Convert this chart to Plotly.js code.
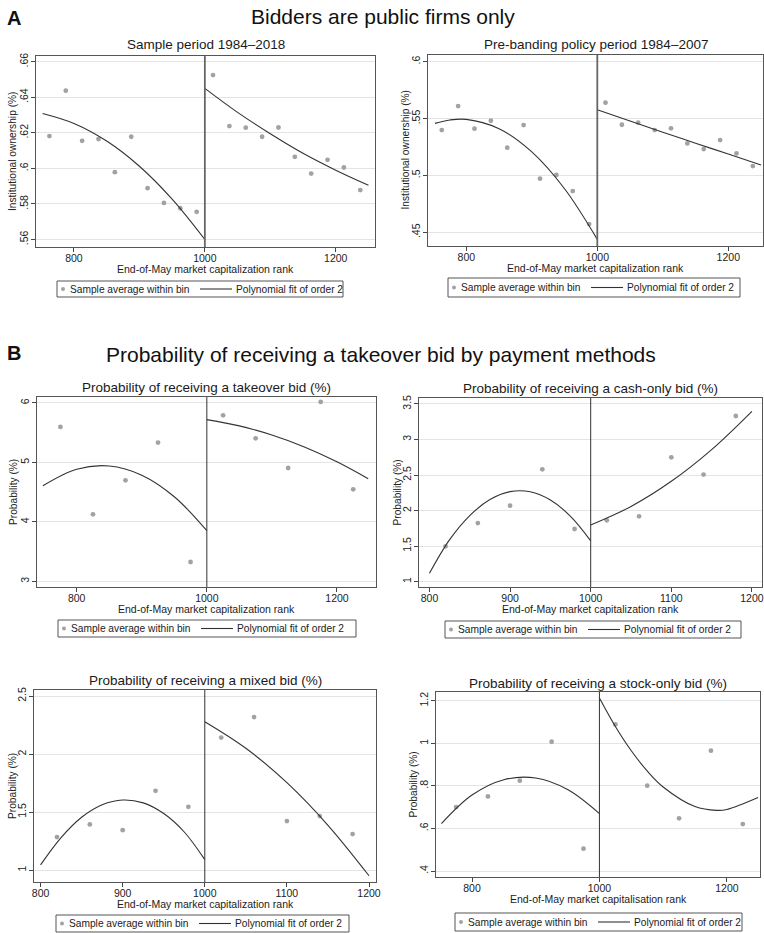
<!DOCTYPE html>
<html><head><meta charset="utf-8">
<script src="https://cdn.plot.ly/plotly-3.0.1.min.js"></script>
<style>html,body{margin:0;padding:0;background:#fff}#chart{width:764px;height:933px}</style>
</head><body><div id="chart"></div>
<script>
// ---------- DATA ----------
const cutoff = 1000;
const binsA = [762.5,787.5,812.5,837.5,862.5,887.5,912.5,937.5,962.5,987.5,1012.5,1037.5,1062.5,1087.5,1112.5,1137.5,1162.5,1187.5,1212.5,1237.5];
const a1Y = [0.6182,0.6437,0.6155,0.6165,0.5979,0.6178,0.5889,0.5806,0.5776,0.5756,0.6525,0.6238,0.6229,0.6178,0.6230,0.6065,0.5971,0.6048,0.6005,0.5878];
const a2Y = [0.5399,0.5610,0.5411,0.5481,0.5244,0.5443,0.4972,0.5004,0.4863,0.4573,0.5640,0.5446,0.5464,0.5399,0.5414,0.5282,0.5232,0.5311,0.5194,0.5083];
const a1FitX = [752,800,850,900,950,1000,null,1000,1050,1100,1150,1200,1250];
const a1FitY = [0.6309,0.6253,0.6154,0.6012,0.5827,0.5600,null,0.6450,0.6315,0.6195,0.6085,0.5990,0.5905];
const a2FitX = [752,775,800,850,900,950,1000,null,1000,1050,1100,1150,1200,1250];
const a2FitY = [0.5458,0.5488,0.5493,0.5411,0.5207,0.4883,0.4438,null,0.5578,0.5478,0.5380,0.5284,0.5188,0.5092];

const bins50 = [775,825,875,925,975,1025,1075,1125,1175,1225];
const bins40 = [820,860,900,940,980,1020,1060,1100,1140,1180];
const b1Y = [5.596,4.127,4.699,5.333,3.325,5.792,5.405,4.906,6.017,4.547];
const b1FitX = [748,800,850,900,950,1000,null,1000,1050,1100,1150,1200,1248];
const b1FitY = [4.608,4.886,4.940,4.786,4.423,3.852,null,5.720,5.614,5.461,5.260,5.010,4.726];
const b2Y = [1.497,1.825,2.069,2.581,1.741,1.863,1.919,2.750,2.506,3.331];
const b2FitX = [800,825,850,875,900,925,950,975,1000,null,1000,1050,1100,1150,1200];
const b2FitY = [1.118,1.591,1.930,2.155,2.267,2.265,2.149,1.919,1.575,null,1.797,2.058,2.412,2.858,3.397];
const b3Y = [1.284,1.393,1.344,1.683,1.545,2.142,2.319,1.422,1.465,1.310];
const b3FitX = [800,825,850,875,900,925,950,975,1000,null,1000,1050,1100,1150,1200];
const b3FitY = [1.045,1.280,1.455,1.563,1.604,1.579,1.487,1.328,1.090,null,2.279,2.050,1.753,1.386,0.951];
const b4Y = [0.7006,0.7507,0.8243,1.0074,0.5049,1.0888,0.8008,0.6474,0.9652,0.6207];
const b4FitX = [752,800,850,900,950,1000,null,1000,1025,1050,1075,1100,1150,1184,1200,1249];
const b4FitY = [0.623,0.757,0.829,0.837,0.783,0.670,null,1.2125,1.079,0.965,0.870,0.795,0.703,0.685,0.689,0.745];

const xTicks3 = [800,1000,1200];
const xTicks5 = [800,900,1000,1100,1200];
const a1YTicks = [0.56,0.58,0.60,0.62,0.64,0.66], a1YText = ['.56','.58','.6','.62','.64','.66'];
const a2YTicks = [0.45,0.50,0.55,0.60], a2YText = ['.45','.5','.55','.6'];
const b1YTicks = [3,4,5,6], b1YText = ['3','4','5','6'];
const b2YTicks = [1,1.5,2,2.5,3,3.5], b2YText = ['1','1.5','2','2.5','3','3.5'];
const b3YTicks = [1,1.5,2,2.5], b3YText = ['1','1.5','2','2.5'];
const b4YTicks = [0.4,0.6,0.8,1,1.2], b4YText = ['.4','.6','.8','1','1.2'];

const titles = ['Sample period 1984\u20132018','Pre-banding policy period 1984\u20132007',
  'Probability of receiving a takeover bid (%)','Probability of receiving a cash-only bid (%)',
  'Probability of receiving a mixed bid (%)','Probability of receiving a stock-only bid (%)'];
const yTitleA = 'Institutional ownership (%)', yTitleB = 'Probability (%)';
const xTitle = 'End-of-May market capitalization rank', xTitleUK = 'End-of-May market capitalisation rank';
const legPoints = 'Sample average within bin', legFit = 'Polynomial fit of order 2';

// ---------- LAYOUT ----------
const W = 764, H = 933;
const FONT = 'Liberation Sans, Arial, sans-serif';
const PT_COLOR = '#a2a2a2', LINE_COLOR = '#333', TXT = '#222';
const panels = [
 {f:[36,375,56,247], xr:[742,1260], yr:[0.5558,0.6632], xt:xTicks3, yt:a1YTicks, ytt:a1YText, bx:binsA, by:a1Y, fx:a1FitX, fy:a1FitY, yT:yTitleA, xT:xTitle, yTx:12.5, leg:[57,343,281,297], A:true},
 {f:[428,763,55,246], xr:[741.5,1253], yr:[0.438,0.6059], xt:xTicks3, yt:a2YTicks, ytt:a2YText, bx:binsA, by:a2Y, fx:a2FitX, fy:a2FitY, yT:yTitleA, xT:xTitle, yTx:405, leg:[448,740,278,297], A:true},
 {f:[37,376,397,587], xr:[739,1260], yr:[2.905,6.1], xt:xTicks3, yt:b1YTicks, ytt:b1YText, bx:bins50, by:b1Y, fx:b1FitX, fy:b1FitY, yT:yTitleB, xT:xTitle, yTx:14, leg:[58,356,620,637]},
 {f:[419,762,398,587], xr:[787,1212.5], yr:[0.925,3.584], xt:xTicks5, yt:b2YTicks, ytt:b2YText, bx:bins40, by:b2Y, fx:b2FitX, fy:b2FitY, yT:yTitleB, xT:xTitle, yTx:397, leg:[445,741,621,638]},
 {f:[34,376,690,882], xr:[792,1208.5], yr:[0.897,2.552], xt:xTicks5, yt:b3YTicks, ytt:b3YText, bx:bins40, by:b3Y, fx:b3FitX, fy:b3FitY, yT:yTitleB, xT:xTitle, yTx:12, leg:[56,349,915,932]},
 {f:[436,760,692,877], xr:[743.5,1252], yr:[0.372,1.241], xt:xTicks3, yt:b4YTicks, ytt:b4YText, bx:bins50, by:b4Y, fx:b4FitX, fy:b4FitY, yT:yTitleB, xT:xTitleUK, yTx:413, leg:[455,742,913,931]}
];
const titleY = [45,45,387,388,680,683];

const data = [], shapes = [], annotations = [];
const layout = {width:W, height:H, margin:{l:0,r:0,t:0,b:0}, paper_bgcolor:'#fff', plot_bgcolor:'#fff',
  font:{family:FONT, color:'#1a1a1a', size:10}, showlegend:false, shapes, annotations};
const px = v => v/W, py = v => 1 - v/H;
const ann = (text, x, y, o) => annotations.push(Object.assign({text, xref:'paper', yref:'paper', x:px(x), y:py(y),
  xanchor:'center', yanchor:'middle', showarrow:false, borderpad:0, font:{size:10.5, family:FONT, color:TXT}}, o||{}));

panels.forEach((p,i)=>{
  const n = i+1, xa = n===1?'xaxis':'xaxis'+n, ya = n===1?'yaxis':'yaxis'+n;
  const xr = n===1?'x':'x'+n, yr = n===1?'y':'y'+n;
  layout[xa] = {domain:[px(p.f[0]), px(p.f[1])], range:p.xr, anchor:yr, tickvals:p.xt, ticks:'outside', ticklen:4, tickcolor:'#444',
    showline:true, mirror:true, linecolor:'#555', linewidth:1, showgrid:false, zeroline:false, ticklabelstandoff:-3,
    ticklabeloverflow:'allow', tickfont:{size:10.5, family:FONT, color:TXT}};
  layout[ya] = {domain:[py(p.f[3]), py(p.f[2])], range:p.yr, anchor:xr, tickvals:p.yt, ticktext:p.ytt, tickangle:-90,
    ticks:'outside', ticklen:4, tickcolor:'#444', showline:true, mirror:true, linecolor:'#555', linewidth:1,
    showgrid:true, gridcolor:'#e4e4e4', gridwidth:1, zeroline:false, ticklabelstandoff:-1,
    tickfont:{size:10.5, family:FONT, color:TXT}};
  data.push({type:'scatter', mode:'markers', x:p.bx, y:p.by, xaxis:xr, yaxis:yr, name:legPoints,
    marker:{color:PT_COLOR, size:4.8}, hoverinfo:'skip'});
  data.push({type:'scatter', mode:'lines', x:p.fx, y:p.fy, xaxis:xr, yaxis:yr, name:legFit,
    line:{color:LINE_COLOR, width:1.1, shape:'spline', smoothing:1}, connectgaps:false, hoverinfo:'skip'});
  shapes.push({type:'line', xref:xr, yref:yr+' domain', x0:cutoff, x1:cutoff, y0:0, y1:1,
    line:{color:p.A?'#666':'#333', width:p.A?1.8:1}, layer:'above'});
  // titles
  ann(titles[i], (p.f[0]+p.f[1])/2, titleY[i], {font:{size:13.5, family:FONT, color:'#1a1a1a'}});
  ann(p.xT, (p.f[0]+p.f[1])/2, p.f[3]+21.5);
  ann(p.yT, p.yTx, (p.f[2]+p.f[3])/2, {textangle:-90, font:{size:10.2, family:FONT, color:TXT}});
  // legend box drawn by hand (Stata style)
  const [lx0,lx1,ly0,ly1] = p.leg, lym = (ly0+ly1)/2;
  shapes.push({type:'rect', xref:'paper', yref:'paper', x0:px(lx0), x1:px(lx1), y0:py(ly1), y1:py(ly0),
    line:{color:'#555', width:1}, fillcolor:'#fff'});
  shapes.push({type:'circle', xref:'paper', yref:'paper', x0:px(lx0+4), x1:px(lx0+8), y0:py(lym+2), y1:py(lym-2),
    line:{width:0}, fillcolor:PT_COLOR});
  shapes.push({type:'line', xref:'paper', yref:'paper', x0:px(lx0+143), x1:px(lx0+175), y0:py(lym), y1:py(lym),
    line:{color:LINE_COLOR, width:1.1}});
  ann(legPoints, lx0+12, lym, {xanchor:'left', font:{size:10.2, family:FONT, color:TXT}});
  ann(legFit, lx0+178, lym, {xanchor:'left', font:{size:10.2, family:FONT, color:TXT}});
});

ann('<b>A</b>', 14, 18, {font:{size:20, family:FONT, color:'#111'}});
ann('Bidders are public firms only', 383, 16, {font:{size:21, family:FONT, color:'#111'}});
ann('<b>B</b>', 14, 353, {font:{size:20, family:FONT, color:'#111'}});
ann('Probability of receiving a takeover bid by payment methods', 381, 354, {font:{size:21, family:FONT, color:'#111'}});

Plotly.newPlot('chart', data, layout, {staticPlot:true});
</script></body></html>
